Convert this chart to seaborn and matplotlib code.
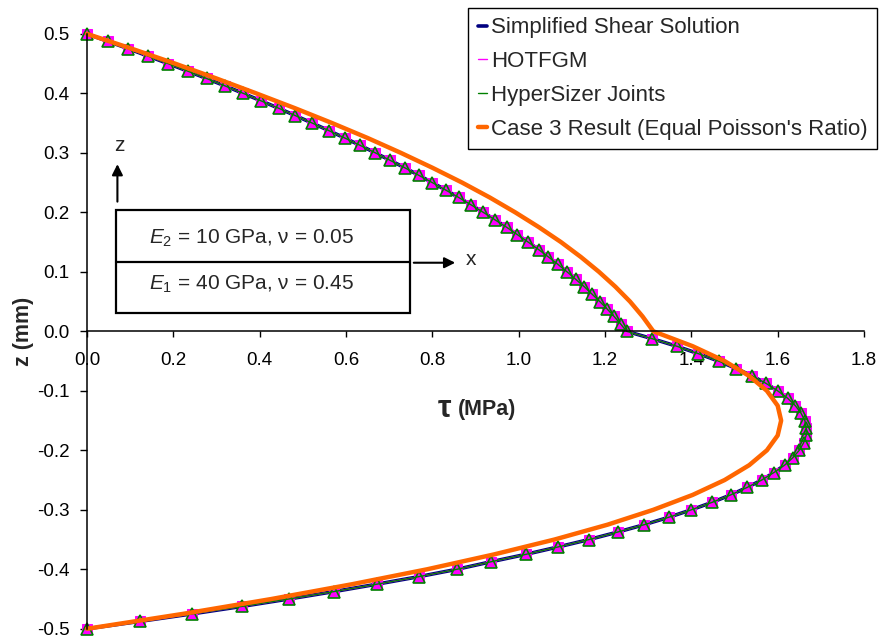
import numpy as np
import pandas as pd
import matplotlib
matplotlib.use("Agg")
import matplotlib.pyplot as plt
from matplotlib.lines import Line2D
from matplotlib.patches import Rectangle
import seaborn as sns

# through-thickness positions (mm), top surface to bottom surface
z_grid = [0.5, 0.4875, 0.475, 0.4625, 0.45, 0.4375, 0.425, 0.4125, 0.4, 0.3875,
          0.375, 0.3625, 0.35, 0.3375, 0.325, 0.3125, 0.3, 0.2875, 0.275, 0.2625,
          0.25, 0.2375, 0.225, 0.2125, 0.2, 0.1875, 0.175, 0.1625, 0.15, 0.1375,
          0.125, 0.1125, 0.1, 0.0875, 0.075, 0.0625, 0.05, 0.0375, 0.025, 0.0125,
          0.0, -0.0125, -0.025, -0.0375, -0.05, -0.0625, -0.075, -0.0875, -0.1, -0.1125,
          -0.125, -0.1375, -0.15, -0.1625, -0.175, -0.1875, -0.2, -0.2125, -0.225, -0.2375,
          -0.25, -0.2625, -0.275, -0.2875, -0.3, -0.3125, -0.325, -0.3375, -0.35, -0.3625,
          -0.375, -0.3875, -0.4, -0.4125, -0.425, -0.4375, -0.45, -0.4625, -0.475, -0.4875,
          -0.5]

# shear stress (MPa)
tau_simplified = [0.0, 0.048, 0.096, 0.142, 0.188, 0.233, 0.277, 0.320, 0.362, 0.403,
                  0.444, 0.483, 0.522, 0.560, 0.597, 0.633, 0.668, 0.702, 0.736, 0.768,
                  0.800, 0.831, 0.861, 0.890, 0.918, 0.945, 0.972, 0.997, 1.022, 1.046,
                  1.069, 1.091, 1.112, 1.132, 1.152, 1.170, 1.188, 1.205, 1.221, 1.236,
                  1.250, 1.310, 1.366, 1.416, 1.463, 1.504, 1.541, 1.573, 1.600, 1.623,
                  1.641, 1.654, 1.663, 1.666, 1.666, 1.660, 1.650, 1.635, 1.616, 1.591,
                  1.563, 1.529, 1.491, 1.448, 1.400, 1.348, 1.291, 1.229, 1.163, 1.091,
                  1.016, 0.935, 0.857, 0.768, 0.672, 0.572, 0.467, 0.358, 0.243, 0.123,
                  0.0]
# HOTFGM and HyperSizer sit on top of the simplified solution
tau_hotfgm = list(tau_simplified)
tau_hypersizer = list(tau_simplified)

z_case3 = [0.5, 0.475, 0.45, 0.425, 0.4, 0.375, 0.35, 0.325, 0.3, 0.275,
           0.25, 0.225, 0.2, 0.175, 0.15, 0.125, 0.1, 0.075, 0.05, 0.025,
           0.0, -0.025, -0.05, -0.075, -0.1, -0.125, -0.15, -0.175, -0.2, -0.225,
           -0.25, -0.275, -0.3, -0.325, -0.35, -0.375, -0.4, -0.425, -0.45, -0.475,
           -0.5]
tau_case3 = [0.0, 0.104, 0.204, 0.300, 0.392, 0.482, 0.568, 0.650, 0.727, 0.800,
             0.869, 0.933, 0.992, 1.047, 1.098, 1.144, 1.186, 1.224, 1.258, 1.287,
             1.312, 1.403, 1.477, 1.534, 1.575, 1.600, 1.608, 1.600, 1.575, 1.534,
             1.477, 1.403, 1.312, 1.206, 1.083, 0.943, 0.788, 0.615, 0.427, 0.222,
             0.0]

labels = ["Simplified Shear Solution", "HOTFGM", "HyperSizer Joints",
          "Case 3 Result (Equal Poisson's Ratio)"]
x_ticks = [0.0, 0.2, 0.4, 0.6, 0.8, 1.0, 1.2, 1.4, 1.6, 1.8]
y_ticks = [-0.5, -0.4, -0.3, -0.2, -0.1, 0.0, 0.1, 0.2, 0.3, 0.4, 0.5]

sns.set_style("white")
plt.rcParams['font.family'] = ['Liberation Sans', 'DejaVu Sans']
plt.rcParams['mathtext.fontset'] = 'custom'
plt.rcParams['mathtext.rm'] = 'Liberation Sans'
plt.rcParams['mathtext.it'] = 'Liberation Sans:italic'

fig = plt.figure(figsize=(8.83, 6.39), dpi=100)
ax = fig.add_axes([0.0985, 0.016, 0.88, 0.931])

navy = "#000080"
magenta = "#FF00FF"
green = "#008000"
orange = "#FF6600"

sns.lineplot(x=tau_simplified, y=z_grid, sort=False, estimator=None, ax=ax,
             color=navy, linewidth=2.6, legend=False, clip_on=False)
sns.lineplot(x=tau_hotfgm, y=z_grid, sort=False, estimator=None, ax=ax,
             color=magenta, linewidth=1, marker='s', markersize=6.5,
             markeredgecolor=magenta, legend=False, clip_on=False)
sns.lineplot(x=tau_hypersizer, y=z_grid, sort=False, estimator=None, ax=ax,
             color=green, linewidth=1, marker='^', markersize=8.5,
             markerfacecolor='none', markeredgecolor=green, markeredgewidth=1.2,
             legend=False, clip_on=False)
sns.lineplot(x=tau_case3, y=z_case3, sort=False, estimator=None, ax=ax,
             color=orange, linewidth=3.2, legend=False, clip_on=False)

ax.set_xlim(0, 1.8)
ax.set_ylim(-0.5, 0.5)
ax.set_xticks(x_ticks)
ax.set_yticks(y_ticks)
ax.set_xticklabels([f"{v:.1f}" for v in x_ticks])
ax.set_yticklabels([f"{v:.1f}" for v in y_ticks])

ax.spines['top'].set_visible(False)
ax.spines['right'].set_visible(False)
ax.spines['bottom'].set_position(('data', 0))
for s in ['left', 'bottom']:
    ax.spines[s].set_color('black')
    ax.spines[s].set_linewidth(1.1)
ax.tick_params(axis='x', direction='out', length=4, width=1, pad=11,
               labelsize=13.5, colors='black', bottom=True)
ax.tick_params(axis='y', direction='out', length=5, width=1, pad=7.5,
               labelsize=13.5, colors='black', left=True)

ax.set_ylabel("z (mm)", fontsize=15.5, fontweight='bold')
ax.yaxis.set_label_coords(-0.068, 0.5)
# axis title sits in the middle of the plot, below the x axis line
ax.text(0.845, -0.131, "τ", ha='right', va='center', fontsize=22, fontweight='bold')
ax.text(0.859, -0.132, "(MPa)", ha='left', va='center', fontsize=15.5, fontweight='bold')

# laminate sketch
ax.add_patch(Rectangle((0.068, 0.0303), 0.68, 0.173, fill=False,
                       edgecolor='black', linewidth=1.6, clip_on=False))
ax.plot([0.068, 0.748], [0.117, 0.117], color='black', linewidth=1.6)
ax.text(0.381, 0.157, "$E_2$ = 10 GPa, ν = 0.05", ha='center', va='center', fontsize=15)
ax.text(0.380, 0.0795, "$E_1$ = 40 GPa, ν = 0.45", ha='center', va='center', fontsize=15)
ax.annotate("", xy=(0.0705, 0.281), xytext=(0.0705, 0.218),
            arrowprops=dict(arrowstyle='-|>', color='black', lw=1.5, mutation_scale=16,
                            shrinkA=0, shrinkB=0))
ax.text(0.076, 0.312, "z", ha='center', va='center', fontsize=15)
ax.annotate("", xy=(0.853, 0.1153), xytext=(0.757, 0.1153),
            arrowprops=dict(arrowstyle='-|>', color='black', lw=1.5, mutation_scale=16,
                            shrinkA=0, shrinkB=0))
ax.text(0.889, 0.12, "x", ha='center', va='center', fontsize=15)

handles = [Line2D([], [], color=navy, lw=2.6),
           Line2D([], [], color=magenta, lw=1),
           Line2D([], [], color=green, lw=1),
           Line2D([], [], color=orange, lw=3.2)]
leg = ax.legend(handles, labels, loc='upper right', bbox_to_anchor=(0.9932, 0.9875),
                bbox_transform=fig.transFigure, fontsize=16, frameon=True, fancybox=False,
                framealpha=1, edgecolor='black', handlelength=0.4, handletextpad=0.2,
                labelspacing=0.58, borderpad=0.42, borderaxespad=0)
leg.get_frame().set_linewidth(1.0)

fig.savefig("out.png", dpi=100)
